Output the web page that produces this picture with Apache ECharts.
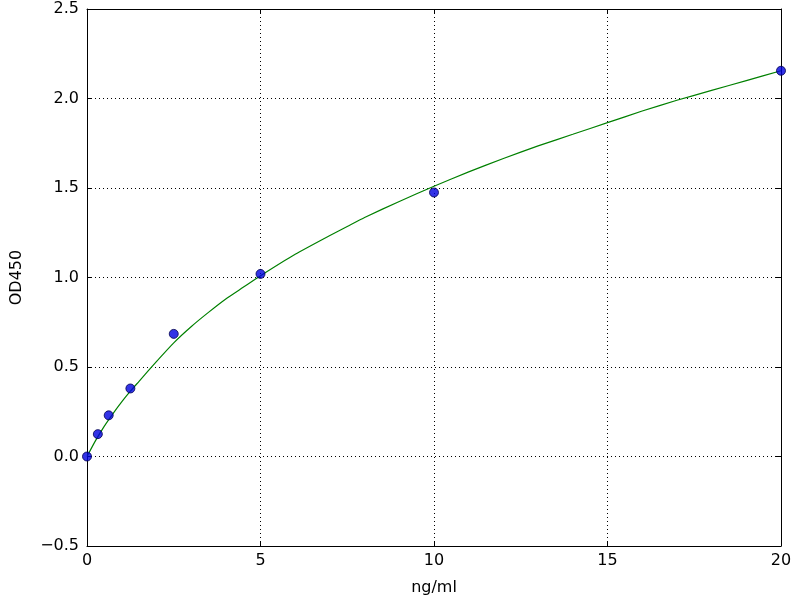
<!DOCTYPE html>
<html><head><meta charset="utf-8">
<script src="https://cdn.jsdelivr.net/npm/echarts@6/dist/echarts.min.js"></script>
<style>html,body{margin:0;padding:0;background:#fff}#c{width:800px;height:600px}</style>
</head><body><div id="c"></div>
<script>
var pointX = [0, 0.3125, 0.625, 1.25, 2.5, 5, 10, 20];
var pointY = [0.0, 0.125, 0.23, 0.38, 0.685, 1.02, 1.475, 2.155];
var curveX = [0,0.25,0.5,0.75,1,1.25,1.5,2,2.5,3,3.5,4,4.5,5,6,7,7.5,8,9,10,11,12,13,14,15,16,17,18,19,20];
var curveY = [0,0.09,0.17,0.24,0.305,0.365,0.42,0.53,0.635,0.725,0.805,0.88,0.945,1.01,1.13,1.235,1.285,1.335,1.425,1.51,1.59,1.665,1.735,1.80,1.865,1.93,1.99,2.045,2.10,2.155];
var xTicks = [0,5,10,15,20];
var yTicks = [-0.5,0,0.5,1.0,1.5,2.0,2.5];

var font = 'DejaVu Sans';
function fmtY(v){ return v.toFixed(1).replace('-', '\u2212'); }
var chart = echarts.init(document.getElementById('c'), null, {renderer:'canvas'});
var axisLine = {show:true, onZero:false, lineStyle:{color:'#000', width:1}};
var tick = {show:true, inside:true, length:5, lineStyle:{color:'#000'}};
chart.setOption({
  animation:false,
  backgroundColor:'#fff',
  grid:{left:87, top:9, right:19, bottom:54, containLabel:false, outerBoundsMode:'none'},
  xAxis:[{
    type:'value', min:xTicks[0], max:xTicks[xTicks.length-1], interval:5,
    name:'ng/ml', nameLocation:'middle', nameGap:34,
    nameTextStyle:{fontFamily:font, fontSize:16, color:'#000'},
    axisLine:axisLine, axisTick:tick,
    axisLabel:{fontFamily:font, fontSize:16, color:'#000', margin:7},
    splitLine:{show:true, lineStyle:{color:'#000', type:[1,3], width:1}}
  },{
    type:'value', min:xTicks[0], max:xTicks[xTicks.length-1], interval:5, position:'top',
    axisLine:axisLine, axisTick:tick, axisLabel:{show:false}, splitLine:{show:false}
  }],
  yAxis:[{
    type:'value', min:yTicks[0], max:yTicks[yTicks.length-1], interval:0.5,
    name:'OD450', nameLocation:'middle', nameGap:62, nameRotate:90,
    nameTextStyle:{fontFamily:font, fontSize:16, color:'#000'},
    axisLine:axisLine, axisTick:tick,
    axisLabel:{fontFamily:font, fontSize:16, color:'#000', margin:8, formatter:fmtY},
    splitLine:{show:true, lineStyle:{color:'#000', type:[1,3], width:1}}
  },{
    type:'value', min:yTicks[0], max:yTicks[yTicks.length-1], interval:0.5, position:'right',
    axisLine:axisLine, axisTick:tick, axisLabel:{show:false}, splitLine:{show:false}
  }],
  series:[{
    type:'line', data:curveX.map(function(x,i){return [x,curveY[i]];}),
    smooth:0.2, showSymbol:false, symbol:'none',
    lineStyle:{color:'#008000', width:1.2}, z:2
  },{
    type:'scatter', data:pointX.map(function(x,i){return [x,pointY[i]];}),
    symbolSize:9, itemStyle:{color:'#0000e0', borderColor:'#000050', borderWidth:1}, z:3
  }]
});
</script></body></html>
